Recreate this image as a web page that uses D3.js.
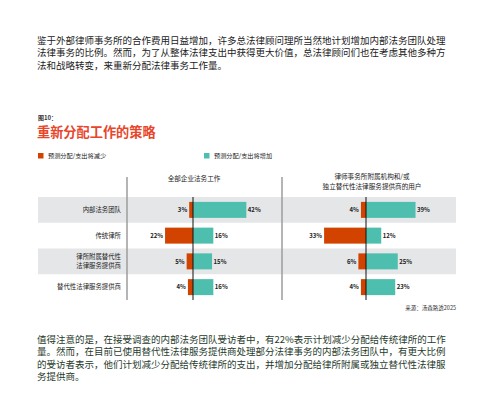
<!DOCTYPE html>
<html>
<head>
<meta charset="utf-8">
<script src="https://cdn.jsdelivr.net/npm/d3@7"></script>
<style>
  body { margin: 0; background: #fff; }
  svg { display: block; font-family: "Noto Sans CJK SC", "Noto Sans", sans-serif; }
</style>
</head>
<body>
<svg id="chart" width="482" height="395"></svg>
<script>
  const introLines = [
    "鉴于外部律师事务所的合作费用日益增加，许多总法律顾问理所当然地计划增加内部法务团队处理",
    "法律事务的比例。然而，为了从整体法律支出中获得更大价值，总法律顾问们也在考虑其他多种方",
    "法和战略转变，来重新分配法律事务工作量。"
  ];
  const outroLines = [
    "值得注意的是，在接受调查的内部法务团队受访者中，有22%表示计划减少分配给传统律所的工作",
    "量。然而，在目前已使用替代性法律服务提供商处理部分法律事务的内部法务团队中，有更大比例",
    "的受访者表示，他们计划减少分配给传统律所的支出，并增加分配给律所附属或独立替代性法律服",
    "务提供商。"
  ];
  const categories = ["内部法务团队", "传统律所", "律所附属替代性\n法律服务提供商", "替代性法律服务提供商"];
  const panels = [
    { title: ["全部企业法务工作"], decrease: [3, 22, 5, 4], increase: [42, 16, 15, 16] },
    { title: ["律师事务所附属机构和/或", "独立替代性法律服务提供商的用户"], decrease: [4, 33, 6, 4], increase: [39, 12, 25, 23] }
  ];
  const legendLabels = ["预测分配/支出将减少", "预测分配/支出将增加"];

  const svg = d3.select("#chart");
  const orange = "#d24300", teal = "#4ebfae";

  // intro paragraph
  svg.append("g").selectAll("text").data(introLines).enter().append("text")
    .attr("x", 37).attr("y", (d, i) => 44 + i * 12.4)
    .attr("font-size", 9.5).attr("fill", "#222").text(d => d);

  svg.append("text").attr("x", 38).attr("y", 120).attr("font-size", 6)
    .attr("font-weight", "bold").attr("fill", "#333").text("图10：");
  svg.append("text").attr("x", 37).attr("y", 137).attr("font-size", 13.2)
    .attr("font-weight", "bold").attr("fill", "#e8452a").text("重新分配工作的策略");

  // legend
  const legend = svg.append("g").selectAll("g").data(legendLabels).enter().append("g")
    .attr("transform", (d, i) => `translate(${i ? 204 : 38},153)`);
  legend.append("rect").attr("width", 5.5).attr("height", 5.5)
    .attr("fill", (d, i) => i ? teal : orange);
  legend.append("text").attr("x", 10).attr("y", 5).attr("font-size", 6.2)
    .attr("fill", "#222").text(d => d);

  // rows
  const y = d3.scaleBand().domain(categories).range([197, 300]).paddingInner(0);
  svg.append("g").selectAll("rect").data(categories.filter((d, i) => i % 2 === 0)).enter().append("rect")
    .attr("x", 38).attr("width", 418).attr("y", d => y(d)).attr("height", y.bandwidth())
    .attr("fill", "#e5e6e8");

  const labels = svg.append("g").selectAll("text").data(categories).enter().append("text")
    .attr("text-anchor", "end").attr("font-size", 6.4).attr("fill", "#222");
  labels.each(function(d) {
    const lines = d.split("\n");
    const cy = y(d) + y.bandwidth() / 2;
    d3.select(this).selectAll("tspan").data(lines).enter().append("tspan")
      .attr("x", 121).attr("y", (l, i) => cy + 2.3 + (i - (lines.length - 1) / 2) * 9)
      .text(l => l);
  });

  // separators
  svg.append("g").selectAll("line").data([127, 282]).enter().append("line")
    .attr("x1", d => d).attr("x2", d => d).attr("y1", 177).attr("y2", 300)
    .attr("stroke", "#9c9c9c").attr("stroke-width", 1.5);

  const zeros = [193, 366];
  const pxPerPct = 1.27;
  const barH = 16;

  panels.forEach((p, pi) => {
    const x = d3.scaleLinear().domain([-40, 50]).range([zeros[pi] - 40 * pxPerPct, zeros[pi] + 50 * pxPerPct]);
    const g = svg.append("g");
    const cx = pi ? 372 : 194;
    g.selectAll("text.title").data(p.title).enter().append("text").attr("class", "title")
      .attr("x", cx).attr("y", (d, i) => 181 + i * 9.5 - (p.title.length - 1) * 2)
      .attr("text-anchor", "middle").attr("font-size", 6.6).attr("fill", "#222").text(d => d);

    g.selectAll("rect.dec").data(p.decrease).enter().append("rect")
      .attr("x", d => x(-d)).attr("width", d => x(0) - x(-d))
      .attr("y", (d, i) => y(categories[i]) + (y.bandwidth() - barH) / 2).attr("height", barH)
      .attr("fill", orange);
    g.selectAll("rect.inc").data(p.increase).enter().append("rect")
      .attr("x", x(0)).attr("width", d => x(d) - x(0))
      .attr("y", (d, i) => y(categories[i]) + (y.bandwidth() - barH) / 2).attr("height", barH)
      .attr("fill", teal);

    g.selectAll("text.dec").data(p.decrease).enter().append("text")
      .attr("x", d => x(-d) - 2).attr("y", (d, i) => y(categories[i]) + y.bandwidth() / 2 + 2.2)
      .attr("text-anchor", "end").attr("font-size", 6).attr("font-weight", "bold")
      .attr("fill", "#222").text(d => d + "%");
    g.selectAll("text.inc").data(p.increase).enter().append("text")
      .attr("x", d => x(d) + 1.5).attr("y", (d, i) => y(categories[i]) + y.bandwidth() / 2 + 2.2)
      .attr("font-size", 6).attr("font-weight", "bold")
      .attr("fill", "#222").text(d => d + "%");

    g.append("line").attr("x1", x(0)).attr("x2", x(0)).attr("y1", 197).attr("y2", 300)
      .attr("stroke", "#111").attr("stroke-width", 1);
  });

  svg.append("text").attr("x", 456).attr("y", 310).attr("text-anchor", "end")
    .attr("font-size", 5.5).attr("fill", "#333").text("来源：汤森路透2025");

  svg.append("g").selectAll("text").data(outroLines).enter().append("text")
    .attr("x", 37).attr("y", (d, i) => 343 + i * 12.4)
    .attr("font-size", 9.5).attr("fill", "#1f3b2c").text(d => d);
</script>
</body>
</html>
